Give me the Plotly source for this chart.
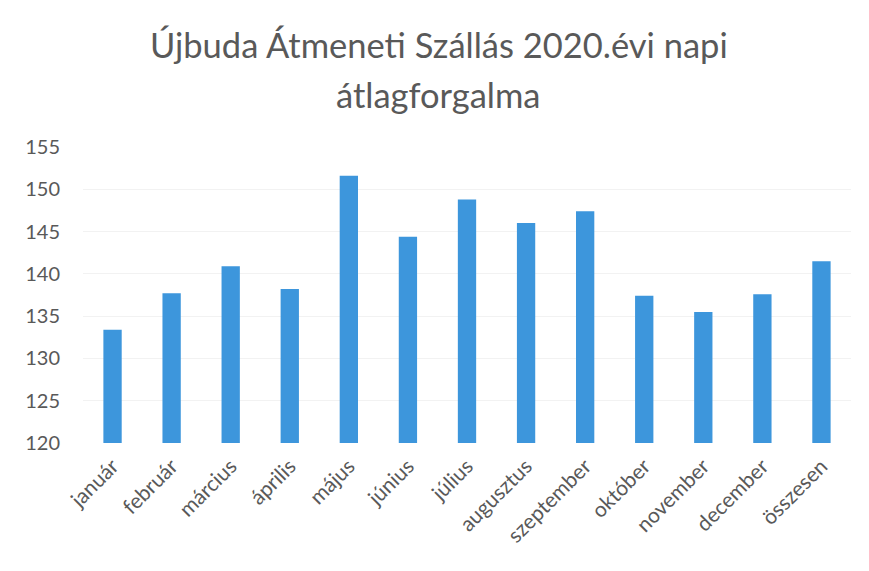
import plotly.graph_objects as go

categories = ["január", "február", "március", "április", "május", "június",
              "július", "augusztus", "szeptember", "október", "november",
              "december", "összesen"]
values = [133.4, 137.7, 140.9, 138.2, 151.6, 144.4, 148.8, 146.0, 147.4,
          137.4, 135.5, 137.6, 141.5]
y_ticks = [120, 125, 130, 135, 140, 145, 150, 155]
title_lines = ["Újbuda Átmeneti Szállás 2020.évi napi", "átlagforgalma"]

fig = go.Figure(go.Bar(x=categories, y=values, marker_color="#3d96dc",
                       marker_line_width=0))

fig.update_layout(
    width=869, height=571,
    paper_bgcolor="white", plot_bgcolor="white",
    font=dict(family="Lato, Open Sans, sans-serif", color="#595959"),
    margin=dict(l=75, r=26, t=139, b=136, autoexpand=False),
    bargap=0.69,
    showlegend=False,
)
for txt, yy in zip(title_lines, [1.345, 1.176]):
    fig.add_annotation(text=txt, xref="paper", yref="paper", x=0.4635, y=yy,
                       xanchor="center", yanchor="middle", showarrow=False,
                       font=dict(size=34.5, color="#595959"))
fig.update_yaxes(range=[120, 155], tickvals=y_ticks, showgrid=True,
                 gridcolor="#f2f2f2", zeroline=False, showline=False,
                 tickfont=dict(size=20), ticks="", ticklen=0,
                 ticklabelstandoff=22, automargin=False)
fig.update_xaxes(tickangle=-45, tickfont=dict(size=21), showline=False,
                 ticks="", automargin=False, ticklabelstandoff=6)

fig.write_html("out.html")
